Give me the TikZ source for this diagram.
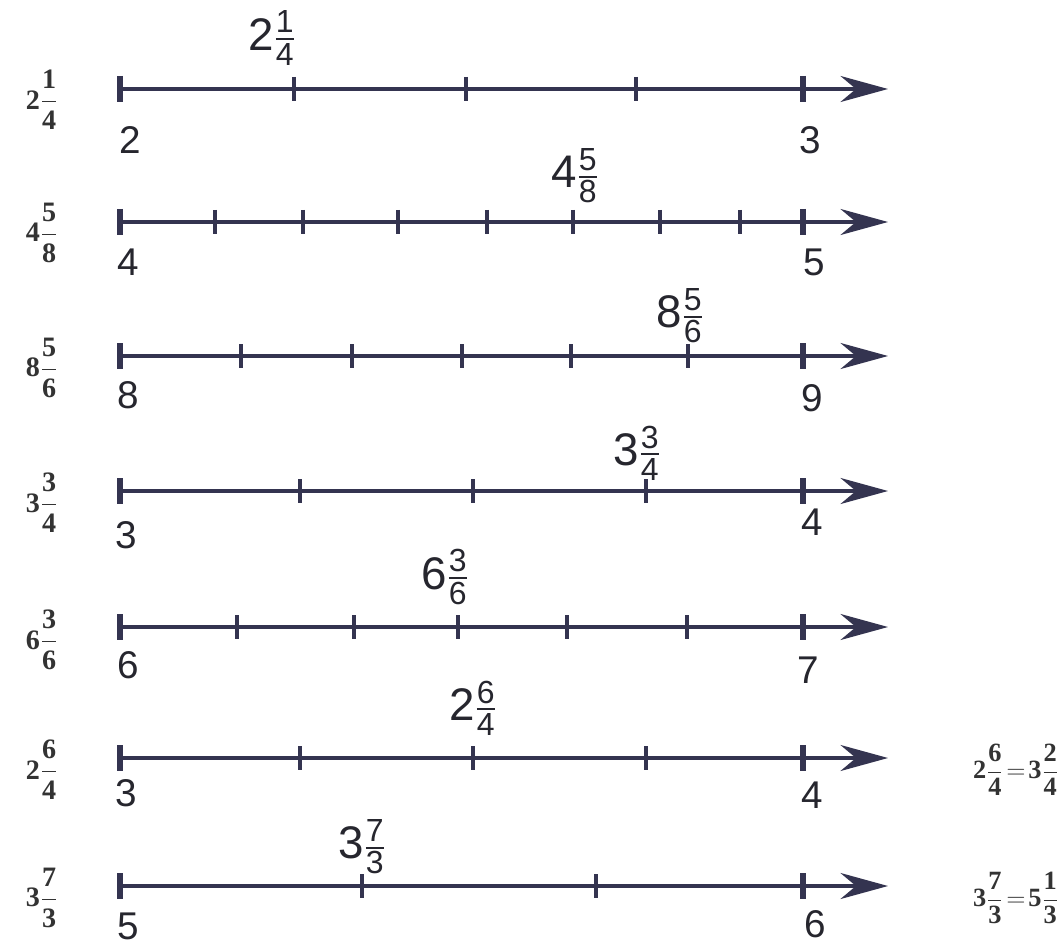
\documentclass[tikz,border=0pt]{standalone}
\usepackage{amsmath}
\usepackage{fontspec}
\setmainfont{Liberation Serif}
\newfontfamily\handfont{Liberation Sans}
\usetikzlibrary{arrows.meta,positioning}
\definecolor{ink}{RGB}{52,52,80}
\definecolor{pencil}{RGB}{38,38,46}
\newcommand{\typedmix}[3]{$\displaystyle\text{#1}\frac{\text{#2}}{\text{#3}}$}
\newcommand{\handmix}[3]{#1$\tfrac{\text{#2}}{\text{#3}}$}
\newcommand{\mixeq}[6]{$\displaystyle\text{#1}\frac{\text{#2}}{\text{#3}}\mkern2mu{=}\mkern2mu\text{#4}\frac{\text{#5}}{\text{#6}}$}

\begin{document}
\begin{tikzpicture}[x=0.02cm, y=-0.02cm,
  axis/.style={draw=ink, line width=2pt, -{Stealth[length=9.5mm, width=5.2mm]}},
  tick/.style={draw=ink, line width=1.8pt},
  endtick/.style={draw=ink, line width=3pt},
  endlabel/.style={font=\handfont\fontsize{22}{24}\selectfont, text=pencil},
  pointlabel/.style={font=\handfont\fontsize{26}{28}\selectfont, text=pencil},
  typed/.style={font=\bfseries\fontsize{16}{18}\selectfont, text=black!80, inner sep=1pt},
  sumup/.style={typed, font=\bfseries\fontsize{15}{17}\selectfont},
]
  \useasboundingbox[fill=white] (0,0) rectangle (1064,949);

  % line 1: quarters
  \coordinate (a1) at (120,89); \coordinate (b1) at (888,89);
  \draw[axis] (a1) -- (b1);
  \foreach \x in {120,803} \draw[endtick] (\x,89) ++(0,-13) -- ++(0,26);
  \foreach \x in {294,466,636} \draw[tick] (\x,89) ++(0,-12) -- ++(0,24);
  \node[typed] (q1) at (42,100) {\typedmix{2}{1}{4}};
  \node[endlabel] (lo1) at (130,140) {2};
  \node[endlabel] (hi1) at (810,140) {3};
  \node[pointlabel] (pt1) at (272,38) {\handmix{2}{1}{4}};

  % line 2: eighths
  \coordinate (a2) at (120,222); \coordinate (b2) at (888,222);
  \draw[axis] (a2) -- (b2);
  \foreach \x in {120,803} \draw[endtick] (\x,222) ++(0,-13) -- ++(0,26);
  \foreach \x in {215,303,398,487,573,660,740} \draw[tick] (\x,222) ++(0,-12) -- ++(0,24);
  \node[typed] (q2) at (42,233) {\typedmix{4}{5}{8}};
  \node[endlabel] (lo2) at (128,262) {4};
  \node[endlabel] (hi2) at (814,262) {5};
  \node[pointlabel] (pt2) at (575,176) {\handmix{4}{5}{8}};

  % line 3: sixths
  \coordinate (a3) at (120,356); \coordinate (b3) at (888,356);
  \draw[axis] (a3) -- (b3);
  \foreach \x in {120,803} \draw[endtick] (\x,356) ++(0,-13) -- ++(0,26);
  \foreach \x in {241,352,462,571,688} \draw[tick] (\x,356) ++(0,-12) -- ++(0,24);
  \node[typed] (q3) at (42,368) {\typedmix{8}{5}{6}};
  \node[endlabel] (lo3) at (128,395) {8};
  \node[endlabel] (hi3) at (812,398) {9};
  \node[pointlabel] (pt3) at (680,316) {\handmix{8}{5}{6}};

  % line 4: quarters
  \coordinate (a4) at (120,491); \coordinate (b4) at (888,491);
  \draw[axis] (a4) -- (b4);
  \foreach \x in {120,803} \draw[endtick] (\x,491) ++(0,-13) -- ++(0,26);
  \foreach \x in {300,473,646} \draw[tick] (\x,491) ++(0,-12) -- ++(0,24);
  \node[typed] (q4) at (42,503) {\typedmix{3}{3}{4}};
  \node[endlabel] (lo4) at (126,535) {3};
  \node[endlabel] (hi4) at (812,522) {4};
  \node[pointlabel] (pt4) at (637,453) {\handmix{3}{3}{4}};

  % line 5: sixths
  \coordinate (a5) at (120,627); \coordinate (b5) at (888,627);
  \draw[axis] (a5) -- (b5);
  \foreach \x in {120,803} \draw[endtick] (\x,627) ++(0,-13) -- ++(0,26);
  \foreach \x in {237,354,458,567,687} \draw[tick] (\x,627) ++(0,-12) -- ++(0,24);
  \node[typed] (q5) at (42,640) {\typedmix{6}{3}{6}};
  \node[endlabel] (lo5) at (128,665) {6};
  \node[endlabel] (hi5) at (808,670) {7};
  \node[pointlabel] (pt5) at (445,577) {\handmix{6}{3}{6}};

  % line 6: quarters
  \coordinate (a6) at (120,758); \coordinate (b6) at (888,758);
  \draw[axis] (a6) -- (b6);
  \foreach \x in {120,803} \draw[endtick] (\x,758) ++(0,-13) -- ++(0,26);
  \foreach \x in {300,473,646} \draw[tick] (\x,758) ++(0,-12) -- ++(0,24);
  \node[typed] (q6) at (42,770) {\typedmix{2}{6}{4}};
  \node[endlabel] (lo6) at (126,793) {3};
  \node[endlabel] (hi6) at (812,795) {4};
  \node[pointlabel] (pt6) at (473,708) {\handmix{2}{6}{4}};
  \node[sumup] (eq6) at (1016,770) {\mixeq{2}{6}{4}{3}{2}{4}};

  % line 7: thirds
  \coordinate (a7) at (120,886); \coordinate (b7) at (888,886);
  \draw[axis] (a7) -- (b7);
  \foreach \x in {120,803} \draw[endtick] (\x,886) ++(0,-13) -- ++(0,26);
  \foreach \x in {362,596} \draw[tick] (\x,886) ++(0,-12) -- ++(0,24);
  \node[typed] (q7) at (42,898) {\typedmix{3}{7}{3}};
  \node[endlabel] (lo7) at (128,926) {5};
  \node[endlabel] (hi7) at (815,924) {6};
  \node[pointlabel] (pt7) at (362,847) {\handmix{3}{7}{3}};
  \node[sumup] (eq7) at (1016,898) {\mixeq{3}{7}{3}{5}{1}{3}};
\end{tikzpicture}
\end{document}
